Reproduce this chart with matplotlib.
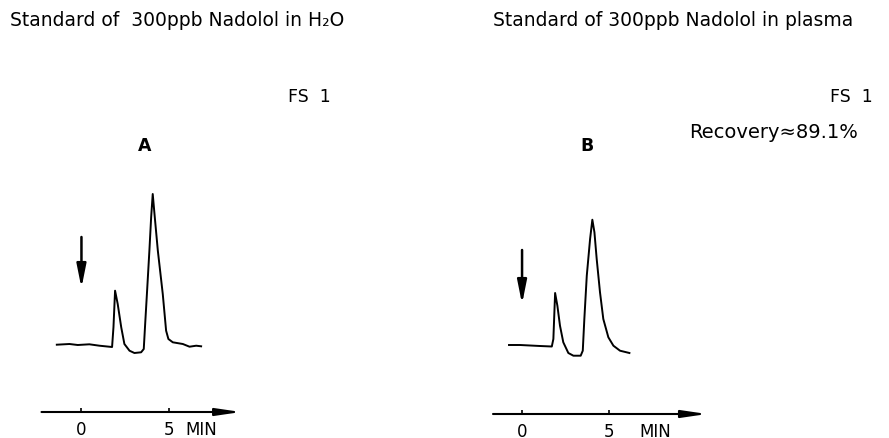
import matplotlib
matplotlib.use("Agg")
import matplotlib.pyplot as plt

# ---- data (time in min, detector signal in arbitrary units) ----
a_time = [-1.40, -0.68, -0.21, 0.45, 1.02, 1.74, 1.82, 1.91, 2.06, 2.26, 2.44, 2.73, 3.01,
          3.39, 3.54, 3.62, 3.73, 3.86, 3.96, 4.05, 4.15, 4.34, 4.62, 4.81, 4.94, 5.19,
          5.76, 6.14, 6.52, 6.80]
a_signal = [2.3, 3.0, 2.0, 2.7, 1.3, 0.0, 20, 56.3, 43, 19.7, 3, -3.7, -6,
            -5.3, -2, 23, 56.3, 96.3, 129.7, 153, 133, 96.3, 53, 16.3, 8, 4.7,
            3, 0.3, 1.3, 0.7]

b_time = [-0.75, -0.11, 0.46, 1.03, 1.71, 1.80, 1.90, 2.03, 2.18, 2.37, 2.66, 2.95, 3.37,
          3.49, 3.58, 3.72, 3.91, 4.04, 4.16, 4.29, 4.48, 4.67, 4.96, 5.25, 5.63, 6.17]
b_signal = [2, 2, 1.5, 1, 0.5, 8, 54, 41.3, 21.3, 4.7, -6, -8.7, -8.7,
            -3.7, 28, 71.3, 108, 127.3, 114.7, 88, 54.7, 28, 9.7, 1.3, -3.7, -6]

# injection marker: (time, arrow start signal, arrow end signal)
a_inject = (0, 110, 59)
b_inject = (0, 97, 43)

tick_values = [0, 5]
tick_labels = ["0", "5"]
unit_label = "MIN"

title_a = "Standard of  300ppb Nadolol in H₂O"
title_b = "Standard of 300ppb Nadolol in plasma"
fs_label = "FS  1"
panel_a = "A"
panel_b = "B"
recovery = "Recovery≈89.1%"

W, H = 889, 439
fig = plt.figure(figsize=(W / 100, H / 100), dpi=100)
plt.rcParams['font.family'] = ['DejaVu Sans']


def px_axes(left, right, bottom, top):
    return fig.add_axes([left / W, 1 - bottom / H, (right - left) / W, (bottom - top) / H])


def ftext(x, y, s, **kw):
    fig.text(x / W, 1 - y / H, s, va='center', color='black', **kw)


def panel(ax, t, s, inject, xlim, ylim, unit_x):
    ax.set_xlim(*xlim)
    ax.set_ylim(*ylim)
    ax.plot(t, s, color='black', lw=1.4, solid_joinstyle='round')
    for sp in ax.spines.values():
        sp.set_visible(False)
    ax.set_yticks([])
    ax.set_xticks(tick_values)
    ax.set_xticklabels(tick_labels)
    ax.tick_params(axis='x', direction='in', length=3, width=1.2, pad=5.5, labelsize=12)
    ax.set_facecolor('none')
    # time axis arrow
    ax.annotate('', xy=(1, 0), xytext=(0, 0), xycoords='axes fraction',
                arrowprops=dict(arrowstyle='-|>,head_length=1.5,head_width=0.22',
                                lw=1.5, color='black', shrinkA=0, shrinkB=0,
                                mutation_scale=10),
                annotation_clip=False)
    # injection arrow
    ax.annotate('', xy=(inject[0], inject[2]), xytext=(inject[0], inject[1]),
                xycoords='data',
                arrowprops=dict(arrowstyle='-|>,head_length=1.4,head_width=0.28',
                                lw=1.8, color='black', shrinkA=0, shrinkB=0,
                                mutation_scale=10))
    ax.annotate(unit_label, xy=(unit_x, 0), xycoords=('data', 'axes fraction'),
                xytext=(0, -5.5), textcoords='offset points', ha='center', va='top',
                fontsize=12)


# panel A: 1 min = 17.6 px, 0 at x=82, baseline at y=348
axA = px_axes(41.5, 41.5 + 11.34 * 17.6, 413, 188)
panel(axA, a_time, a_signal, a_inject, (-2.27, 9.07), (-65, 160), 6.82)

# panel B: 1 min = 17.4 px, 0 at x=522, baseline at y=348
axB = px_axes(493, 707, 415, 188)
panel(axB, b_time, b_signal, b_inject, (-1.67, 10.63), (-67, 160), 7.64)

ftext(10, 20, title_a, fontsize=13.5, ha='left')
ftext(493, 20, title_b, fontsize=13.5, ha='left')
ftext(288, 97, fs_label, fontsize=12.5, ha='left')
ftext(830, 97, fs_label, fontsize=12.5, ha='left')
ftext(145, 146, panel_a, fontsize=12.5, ha='center', fontweight='bold')
ftext(587, 146, panel_b, fontsize=12.5, ha='center', fontweight='bold')
ftext(689, 133, recovery, fontsize=14, ha='left')

fig.savefig("out.png", dpi=100, facecolor='white')
